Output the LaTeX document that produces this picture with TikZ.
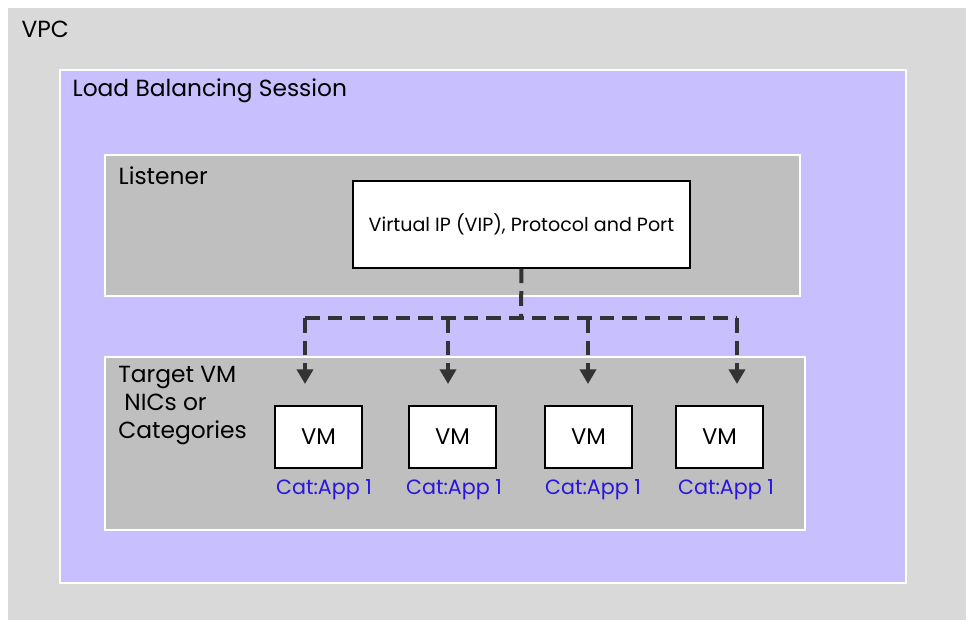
\documentclass[tikz,border=0pt]{standalone}
\usepackage{fontspec}
\setmainfont{Poppins}
\usetikzlibrary{arrows.meta}
\definecolor{vpc}{HTML}{D9D9D9}
\definecolor{lbs}{HTML}{C8BFFF}
\definecolor{grp}{HTML}{BFBFBF}
\definecolor{cat}{HTML}{2A14E0}
\definecolor{dk}{HTML}{333333}
\begin{document}
\begin{tikzpicture}[x=0.75pt,y=-0.75pt,
  cont/.style={draw=white,line width=2.2pt},
  lbl/.style={anchor=west,font=\fontsize{17.5}{21}\selectfont},
  vm/.style={draw=black,fill=white,line width=0.8pt,minimum width=65.25pt,minimum height=46.5pt,font=\fontsize{17}{20}\selectfont},
  catl/.style={text=cat,font=\fontsize{15.5}{18}\selectfont},
  dln/.style={draw=dk,line width=3pt,dash pattern=on 11pt off 6pt},
  arr/.style={dln,-{Triangle[length=11pt,width=12pt]}}]
\useasboundingbox (0,0) rectangle (974,627);
\fill[white] (0,0) rectangle (974,627);
\fill[vpc] (8,8) rectangle (966,620);
\node[lbl] (vpcl) at (17,29) {VPC};
\draw[cont,fill=lbs] (60,70) rectangle (906,583);
\node[lbl] (lbsl) at (68,91) {Load Balancing Session};
\draw[cont,fill=grp] (105,155) rectangle (800,296);
\node[lbl] (lisl) at (114,176) {Listener};
\node[draw=black,fill=white,line width=0.8pt,minimum width=252.75pt,minimum height=65.25pt,font=\fontsize{14.3}{16}\selectfont] (vip) at (521.5,224.5) {Virtual IP (VIP), Protocol and Port};
\draw[cont,fill=grp] (105,357) rectangle (805,530);
\node[lbl,anchor=north west,align=left,inner sep=0pt] (tgl) at (118,366) {Target VM\\\ NICs or\\Categories};
\foreach \n/\x/\cx in {1/318.5/324,2/452.5/454,3/588.5/593,4/719.5/726}{
  \node[vm] (vm\n) at (\x,437) {VM};
  \node[catl] (c\n) at (\cx,490) {Cat:App 1};
}
\coordinate (j) at (521,318);
\draw[dln] (vip.south) -- (j);
\draw[dln] (305,318) -- (737,318);
\foreach \x in {305,448,588,737}{
  \coordinate (t\x) at (\x,384);
  \draw[arr] (\x,318) -- (t\x);
}
\end{tikzpicture}
\end{document}
